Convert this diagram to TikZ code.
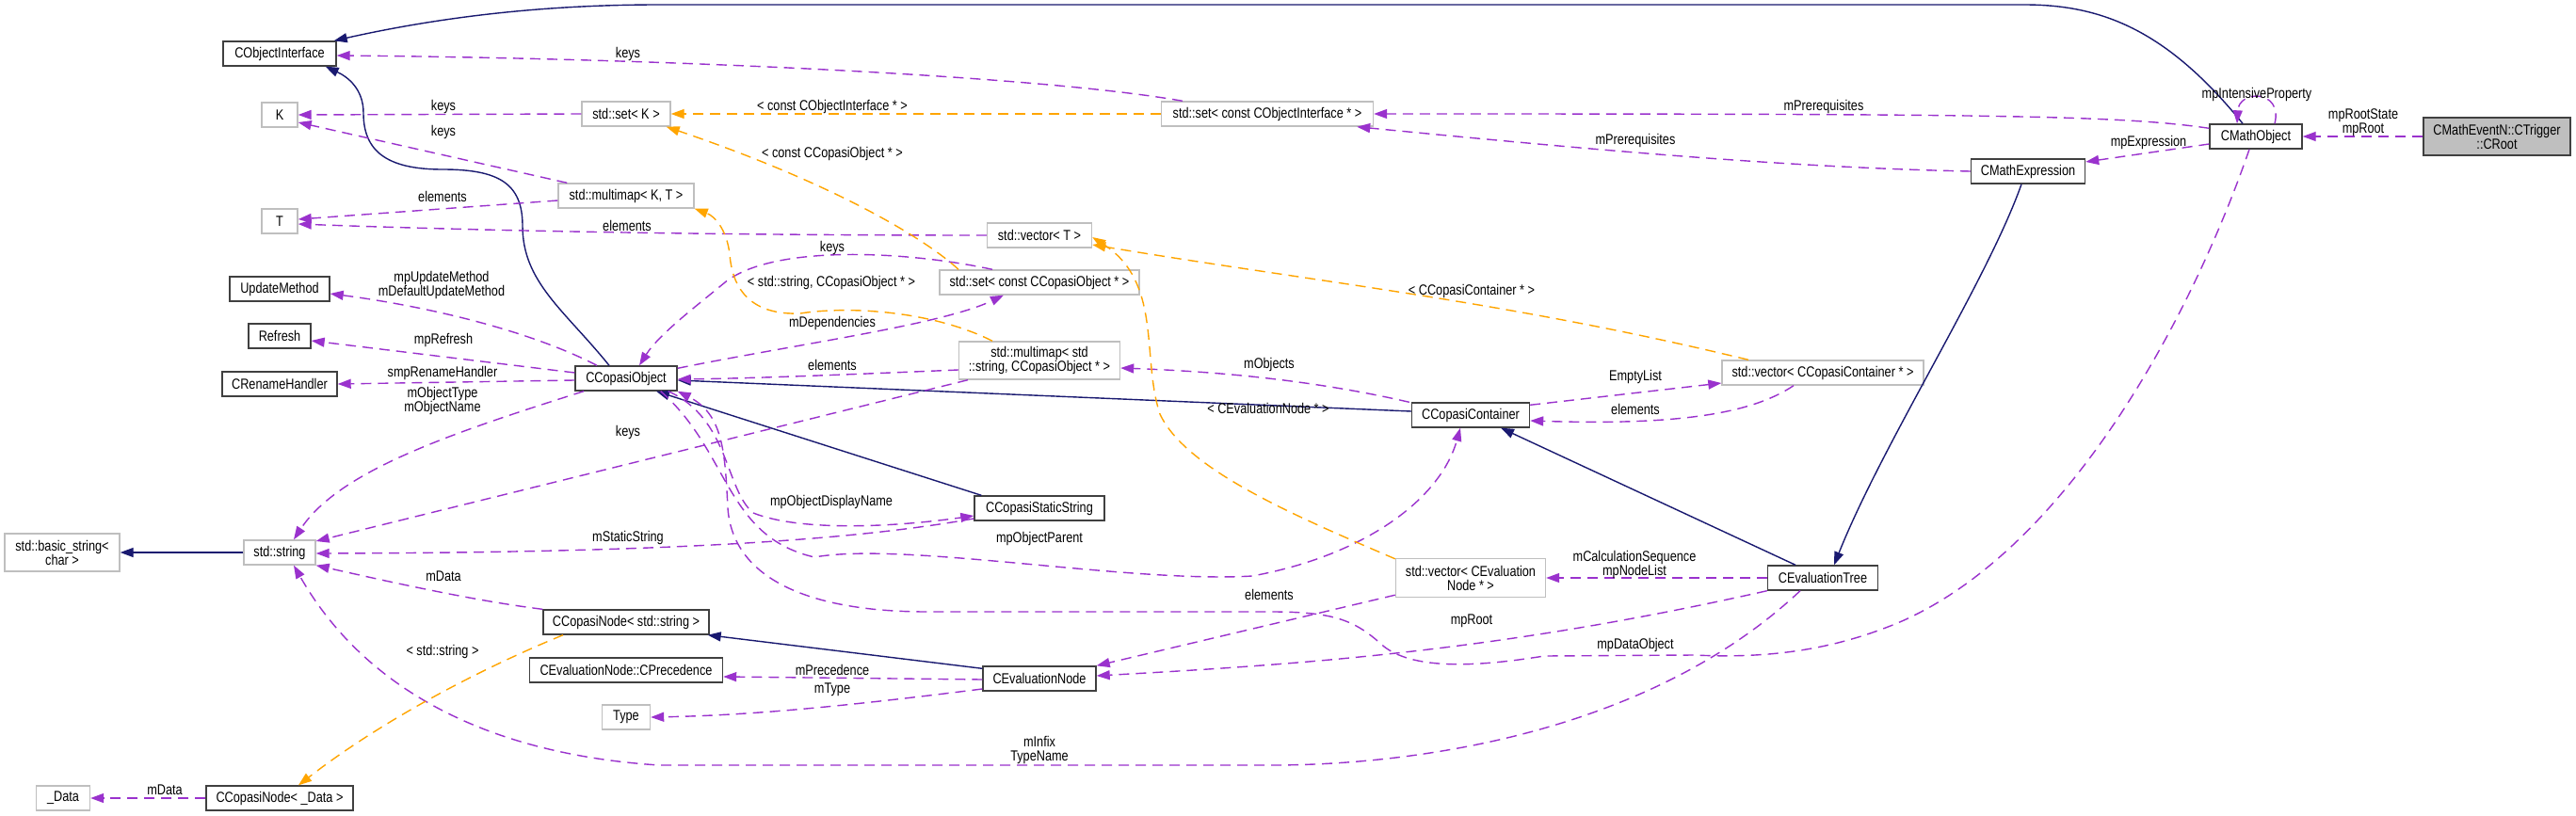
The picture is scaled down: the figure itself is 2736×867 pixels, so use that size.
\documentclass[tikz,border=0pt]{standalone}
\usepackage{fontspec}
\setmainfont{Liberation Sans}[FakeStretch=0.82]
\usetikzlibrary{arrows.meta}
\definecolor{pur}{HTML}{9A32CD}
\definecolor{blu}{HTML}{191970}
\definecolor{ora}{HTML}{FFA500}
\definecolor{gbd}{HTML}{BFBFBF}
\definecolor{bbd}{HTML}{404040}
\begin{document}
\begin{tikzpicture}[x=1pt,y=-1pt,
  every node/.style={font=\fontsize{15.5}{15}\selectfont, inner sep=0pt, align=center},
  cls/.style={draw=bbd, line width=1.4pt, fill=white, minimum height=26pt},
  ext/.style={draw=gbd, line width=1.4pt, fill=white, minimum height=26pt},
  lbl/.style={},
  tip/.style={-{Triangle[length=14pt,width=10pt]}},
  use/.style={tip, draw=pur, line width=1.4pt, dash pattern=on 11pt off 7pt},
  tpl/.style={tip, draw=ora, line width=1.4pt, dash pattern=on 11pt off 7pt},
  inh/.style={tip, draw=blu, line width=1.4pt}
]
\fill[white] (0,0) rectangle (2736,867);
\useasboundingbox (0,0) rectangle (2736,867);

% nodes
\node[cls, minimum width=120pt] (COI) at (297,57) {CObjectInterface};
\node[ext, minimum width=38pt] (K) at (297,122) {K};
\node[ext, minimum width=38pt] (T) at (297,235) {T};
\node[cls, minimum width=106pt] (UM) at (297,307) {UpdateMethod};
\node[cls, minimum width=66pt] (RF) at (297,357) {Refresh};
\node[cls, minimum width=122pt] (RH) at (297,408) {CRenameHandler};
\node[ext, minimum width=76pt] (SS) at (297,587) {std::string};
\node[ext, minimum width=122pt, minimum height=40pt] (BS) at (66,587) {std::basic\_string<\\char >};
\node[cls, minimum width=156pt] (CND) at (297,848) {CCopasiNode< \_Data >};
\node[ext, minimum width=57pt] (DA) at (67,848) {\_Data};
\node[ext, minimum width=94pt] (SK) at (665,121) {std::set< K >};
\node[ext, minimum width=144pt] (MKT) at (665,208) {std::multimap< K, T >};
\node[cls, minimum width=108pt] (CO) at (665,402) {CCopasiObject};
\node[cls, minimum width=176pt] (CNS) at (665,661) {CCopasiNode< std::string >};
\node[cls, minimum width=205pt] (PR) at (665,712) {CEvaluationNode::CPrecedence};
\node[ext, minimum width=51pt] (TY) at (665,762) {Type};
\node[ext, minimum width=225pt] (SCOI) at (1346,121) {std::set< const CObjectInterface * >};
\node[ext, minimum width=111pt] (VT) at (1104,250) {std::vector< T >};
\node[ext, minimum width=212pt] (SCO) at (1104,300) {std::set< const CCopasiObject * >};
\node[ext, minimum width=171pt, minimum height=40pt] (MS) at (1104,383) {std::multimap< std\\::string, CCopasiObject * >};
\node[cls, minimum width=138pt] (CSS) at (1104,540) {CCopasiStaticString};
\node[cls, minimum width=120pt] (EN) at (1104,721) {CEvaluationNode};
\node[cls, minimum width=125pt] (CC) at (1562,441) {CCopasiContainer};
\node[ext, minimum width=159pt, minimum height=41pt] (VEN) at (1562,614) {std::vector< CEvaluation\\Node * >};
\node[ext, minimum width=214pt] (VCC) at (1936,396) {std::vector< CCopasiContainer * >};
\node[cls, minimum width=117pt] (ET) at (1936,614) {CEvaluationTree};
\node[cls, minimum width=121pt] (ME) at (2154,182) {CMathExpression};
\node[cls, minimum width=98pt] (MO) at (2396,145) {CMathObject};
\node[cls, fill=gbd, minimum width=156pt, minimum height=40pt] (CR) at (2652,145) {CMathEventN::CTrigger\\::CRoot};

% inheritance
\draw[inh] ([xshift=-14pt]MO.north) .. controls (2300,30) and (2230,5) .. (2150,5) -- (700,5) .. controls (560,5) and (450,22) .. ([xshift=-3pt]COI.north east);
\draw[inh] ([xshift=-18pt]CO.north) .. controls (600,330) and (555,300) .. (555,240) .. controls (555,195) and (530,180) .. (470,180) .. controls (410,180) and (386,160) .. (386,120) .. controls (386,95) and (370,82) .. ([xshift=-12pt]COI.south east);
\draw[inh] ([xshift=8pt]CSS.north west) -- ([xshift=32pt]CO.south);
\draw[inh] ([yshift=4pt]CC.west) -- ([yshift=-2pt]CO.east);
\draw[inh] ([xshift=-29pt]ET.north) -- ([xshift=32pt]CC.south);
\draw[inh] ([xshift=-7pt]ME.south) .. controls (2110,300) and (2000,470) .. ([xshift=12pt]ET.north);
\draw[inh] ([yshift=-3pt]EN.north west) -- ([xshift=-2pt]CNS.south east);
\draw[inh] (SS.west) -- (BS.east);

% usage
\draw[use] ([xshift=-90pt]SCOI.north) .. controls (1100,80) and (700,62) .. ([yshift=-2pt]COI.east);
\draw[use] (SK.west) -- (K.east);
\draw[use] ([xshift=10pt]MKT.north west) -- ([yshift=-8pt]K.east);
\draw[use] ([yshift=-5pt]MKT.west) -- ([yshift=2pt]T.east);
\draw[use] (VT.west) .. controls (700,250) and (450,243) .. ([yshift=-3pt]T.east);
\draw[use] ([xshift=-31pt]CO.north) .. controls (560,350) and (450,325) .. ([yshift=-5pt]UM.east);
\draw[use] ([yshift=6pt]CO.west) -- ([yshift=-5pt]RF.east);
\draw[use] ([yshift=-2pt]CO.west) -- (RH.east);
\draw[use] ([xshift=-45pt]CO.south) .. controls (480,460) and (360,500) .. ([xshift=15pt]SS.north);
\draw[use] ([xshift=-76pt]MS.south) -- ([yshift=12pt]SS.east);
\draw[use] ([yshift=-11pt]CSS.west) .. controls (900,575) and (700,587) .. ([yshift=-1pt]SS.east);
\draw[use] (CNS.north west) .. controls (500,638) and (400,615) .. (SS.south east);
\draw[use] ([xshift=-24pt]ET.south) .. controls (1750,780) and (1500,813) .. (1350,813) -- (700,813) .. controls (500,800) and (380,720) .. ([xshift=15pt]SS.south);
\draw[use] ([xshift=-7pt]MO.south) .. controls (2330,330) and (2200,580) .. (2020,660) .. controls (1950,690) and (1880,700) .. (1800,696) -- (1640,697) .. controls (1560,710) and (1500,710) .. (1470,687) .. controls (1440,660) and (1420,650) .. (1350,650) -- (985,650) .. controls (850,650) and (778,610) .. (773,540) .. controls (770,480) and (768,440) .. (CO.south east);
\draw[use] ([xshift=-10pt]CO.south east) .. controls (775,445) and (770,520) .. (800,545) .. controls (850,565) and (950,560) .. ([yshift=-8pt]CSS.west);
\draw[use] ([xshift=-18pt]CO.south east) .. controls (775,480) and (770,570) .. (865,592) .. controls (960,575) and (1200,620) .. (1330,612) .. controls (1450,590) and (1530,530) .. ([xshift=-11pt]CC.south);
\draw[use] ([yshift=-10pt]MS.west) .. controls (900,398) and (800,402) .. ([yshift=-1pt]CO.east);
\draw[use] ([xshift=-50pt]SCO.north) .. controls (960,266) and (820,260) .. (770,300) .. controls (740,325) and (700,355) .. ([xshift=14pt]CO.north);
\draw[use] ([yshift=-3pt]CO.north east) .. controls (850,365) and (1000,345) .. ([xshift=-38pt]SCO.south);
\draw[use] ([xshift=-2pt]CC.north west) .. controls (1400,405) and (1300,395) .. ([yshift=-8pt]MS.east);
\draw[use] ([yshift=-3pt]CC.north east) -- ([yshift=-11pt]VCC.west);
\draw[use] ([xshift=-31pt]VCC.south) .. controls (1860,440) and (1780,452) .. ([yshift=-6pt]CC.east);
\draw[use] (ET.west) -- (VEN.east);
\draw[use] (ET.south west) .. controls (1600,690) and (1400,705) .. ([yshift=3pt]EN.east);
\draw[use] ([yshift=3pt]VEN.south west) -- (EN.north east);
\draw[use] ([yshift=-1pt]EN.west) -- ([yshift=-7pt]PR.east);
\draw[use] ([yshift=-11pt]EN.west) .. controls (900,750) and (800,760) .. (TY.east);
\draw[use] (CR.west) -- (MO.east);
\draw[use] ([xshift=20pt]MO.north) .. controls (2425,95) and (2378,95) .. ([xshift=-20pt]MO.north);
\draw[use] ([yshift=-5pt]MO.north west) .. controls (2250,122) and (2100,121) .. (SCOI.east);
\draw[use] (ME.west) .. controls (1900,178) and (1700,160) .. ([xshift=-18pt]SCOI.south east);
\draw[use] ([yshift=-8pt]MO.west) -- ([yshift=10pt]ME.east);
\draw[use] (CND.west) -- (DA.east);

% template instances
\draw[tpl] (SCOI.west) -- (SK.east);
\draw[tpl] ([xshift=-86pt]SCO.north) .. controls (990,260) and (900,200) .. ([xshift=-5pt]SK.south east);
\draw[tpl] ([xshift=-50pt]MS.north) .. controls (990,330) and (900,325) .. (850,333) .. controls (800,335) and (778,310) .. (775,270) .. controls (772,245) and (760,230) .. (MKT.south east);
\draw[tpl] ([xshift=-79pt]VCC.north) .. controls (1600,320) and (1400,300) .. ([yshift=-10pt]VT.east);
\draw[tpl] ([yshift=-1pt]VEN.north west) .. controls (1380,550) and (1260,500) .. (1232,440) .. controls (1212,380) and (1235,300) .. ([yshift=-2pt]VT.east);
\draw[tpl] ([xshift=-67pt]CNS.south) .. controls (500,715) and (400,770) .. ([xshift=20pt]CND.north);

% labels
\node[lbl] (l1) at (667,57) {keys};
\node[lbl] (l2) at (884,113) {< const CObjectInterface * >};
\node[lbl] (l3) at (471,113) {keys};
\node[lbl] (l4) at (471,140) {keys};
\node[lbl] (l5) at (884,163) {< const CCopasiObject * >};
\node[lbl] (l6) at (470,209) {elements};
\node[lbl] (l7) at (666,240) {elements};
\node[lbl] (l8) at (884,263) {keys};
\node[lbl] (l9) at (883,300) {< std::string, CCopasiObject * >};
\node[lbl] (l10) at (469,303) {mpUpdateMethod\\mDefaultUpdateMethod};
\node[lbl] (l11) at (884,343) {mDependencies};
\node[lbl] (l12) at (471,361) {mpRefresh};
\node[lbl] (l13) at (884,388) {elements};
\node[lbl] (l14) at (1348,387) {mObjects};
\node[lbl] (l15) at (470,396) {smpRenameHandler};
\node[lbl] (l16) at (470,426) {mObjectType\\mObjectName};
\node[lbl] (l17) at (1347,434) {< CEvaluationNode * >};
\node[lbl] (l18) at (667,459) {keys};
\node[lbl] (l19) at (883,533) {mpObjectDisplayName};
\node[lbl] (l20) at (667,571) {mStaticString};
\node[lbl] (l21) at (1104,572) {mpObjectParent};
\node[lbl] (l22) at (471,612) {mData};
\node[lbl] (l23) at (1348,632) {elements};
\node[lbl] (l24) at (470,692) {< std::string >};
\node[lbl] (l25) at (884,712) {mPrecedence};
\node[lbl] (l26) at (884,733) {mType};
\node[lbl] (l27) at (1104,797) {mInfix\\TypeName};
\node[lbl] (l28) at (175,839) {mData};
\node[lbl] (l29) at (1937,113) {mPrerequisites};
\node[lbl] (l30) at (1737,149) {mPrerequisites};
\node[lbl] (l31) at (1563,309) {< CCopasiContainer * >};
\node[lbl] (l32) at (1737,400) {EmptyList};
\node[lbl] (l33) at (1737,435) {elements};
\node[lbl] (l34) at (1736,600) {mCalculationSequence\\mpNodeList};
\node[lbl] (l35) at (1563,660) {mpRoot};
\node[lbl] (l36) at (1737,685) {mpDataObject};
\node[lbl] (l37) at (2397,100) {mpIntensiveProperty};
\node[lbl] (l38) at (2510,130) {mpRootState\\mpRoot};
\node[lbl] (l39) at (2282,151) {mpExpression};
\end{tikzpicture}
\end{document}
